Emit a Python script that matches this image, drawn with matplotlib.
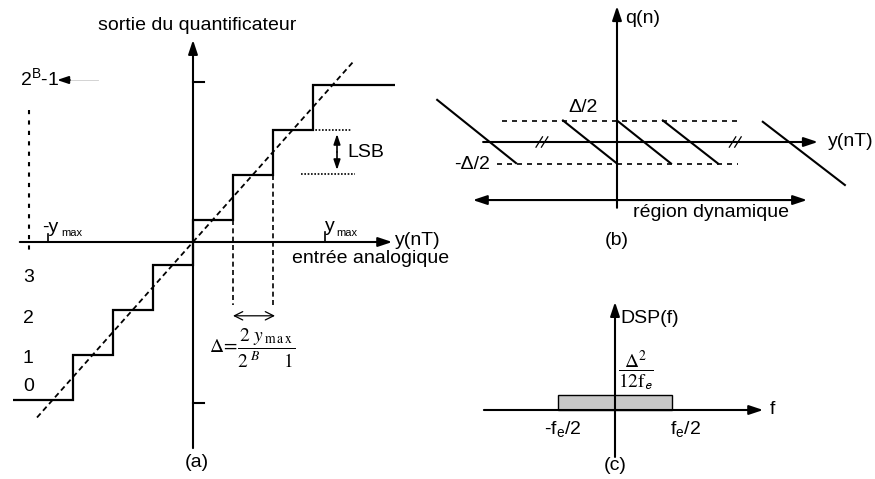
import matplotlib.pyplot as plt
from matplotlib.patches import Rectangle

plt.rcParams['font.family'] = ['Liberation Sans', 'DejaVu Sans']

W, H = 875, 479
FS = 14

# (a) quantizer staircase: units = one step (delta) in x, one LSB in y
q_edges = [-4.5, -3, -2, -1, 0, 1, 2, 3, 5.05]
q_levels = [-3.5, -2.5, -1.5, -0.5, 0.5, 1.5, 2.5, 3.5]
ideal_x = [-3.9, 4.0]
code_labels = ['3', '2', '1', '0']
code_y = [-0.78, -1.69, -2.58, -3.22]

# (b) quantization error sawtooth segments (units = delta)
saw_x0 = [-3.33, -1.0, 0.0, 0.85, 2.70]
saw_x1 = [-1.87, 0.0, 1.0, 1.87, 4.22]
saw_y0 = [0.98, 0.5, 0.5, 0.5, 0.47]
saw_y1 = [-0.49, -0.5, -0.5, -0.5, -1.0]

# (c) noise PSD: flat from -fe/2 to fe/2
psd_band = [-0.5, 0.5]
psd_level = 1.0

fig = plt.figure(figsize=(W / 100, H / 100), dpi=100)


def make_panel(ox, oy, sx, sy, x0, x1):
    ax = fig.add_axes([x0 / W, 0, (x1 - x0) / W, 1])
    ax.set_xlim((x0 - ox) / sx, (x1 - ox) / sx)
    ax.set_ylim((oy - H) / sy, oy / sy)
    ax.axis('off')
    return ax


def arrow(ax, x0, y0, x1, y1, style='-|>,head_length=0.6,head_width=0.2',
          lw=1.5, ms=14, color='k'):
    ax.annotate('', xy=(x1, y1), xytext=(x0, y0),
                arrowprops=dict(arrowstyle=style, lw=lw, color=color,
                                mutation_scale=ms, shrinkA=0, shrinkB=0))


# ── (a) quantizer characteristic ──
ax = make_panel(193, 242, 40, 45, 0, 420)
arrow(ax, -4.33, 0, 4.98, 0)
arrow(ax, 0, -4.58, 0, 4.49)
ax.plot([0, 0.28], [3.55, 3.55], color='k', lw=1.5)
ax.plot([0, 0.28], [-3.58, -3.58], color='k', lw=1.5)
ax.stairs(q_levels, q_edges, baseline=None, color='k', lw=1.6)
ax.plot(ideal_x, ideal_x, color='k', lw=1.3, ls=(0, (3, 2)))

# delta construction
ax.plot([1, 1], [0.5, -1.4], color='k', lw=1.2, ls=(0, (3, 2)))
ax.plot([2, 2], [1.5, -1.4], color='k', lw=1.2, ls=(0, (3, 2)))
arrow(ax, 1, -1.64, 2.05, -1.64, style='<->,head_length=0.5,head_width=0.25',
      lw=0.9, ms=12)
ax.text(1.48, -2.36, r'$\Delta\!=\!\dfrac{2\ y_{\,\mathrm{m\,a\,x}}}{2^{\ B}\ \ \ \ \ 1}$',
        math_fontfamily='stix', fontsize=14, ha='center', va='center')

# LSB
ax.plot([2.98, 3.98], [2.5, 2.5], color='k', lw=1.2, ls=(0, (1, 1)))
ax.plot([2.7, 4.05], [1.51, 1.51], color='k', lw=1.2, ls=(0, (1, 1)))
arrow(ax, 3.6, 2.0, 3.6, 2.4, ms=10, lw=1.2)
arrow(ax, 3.6, 2.0, 3.6, 1.6, ms=10, lw=1.2)
ax.text(3.85, 1.98, 'LSB', fontsize=FS, ha='left', va='center')

# left annotations
ax.plot([-3.1, -2.38], [3.6, 3.6], color='0.8', lw=0.6)
arrow(ax, -3.08, 3.6, -3.4, 3.6, ms=11, lw=1.4)
ax.text(-4.33, 3.62, r'2$^{\mathregular{B}}$-1', fontsize=FS, ha='left', va='center')
ax.plot([-4.1, -4.1], [2.93, -0.29], color='k', lw=1.5, ls=(0, (2, 3)))
ax.plot([-3.62, -3.62], [0, 0.18], color='k', lw=1.2)
ax.plot([3.3, 3.3], [0, 0.22], color='k', lw=1.2)
ax.text(-3.78, 0.33, '-y', fontsize=FS, ha='left', va='center')
ax.text(-3.3, 0.2, 'max', fontsize=8, ha='left', va='center')
ax.text(3.3, 0.35, 'y', fontsize=FS, ha='left', va='center')
ax.text(3.58, 0.2, 'max', fontsize=8, ha='left', va='center')
ax.text(5.05, 0.04, 'y(nT)', fontsize=FS, ha='left', va='center')
ax.text(2.48, -0.36, 'entrée analogique', fontsize=FS, ha='left', va='center')
ax.text(0.1, 4.82, 'sortie du quantificateur', fontsize=FS, ha='center', va='center')
for lab, yy in zip(code_labels, code_y):
    ax.text(-4.12, yy, lab, fontsize=FS, ha='center', va='center')
ax.text(0.1, -4.89, '(a)', fontsize=FS, ha='center', va='center')

# ── (b) quantization error ──
bx = make_panel(617, 142, 54, 43, 420, 875)
arrow(bx, -2.48, 0, 3.72, 0)
arrow(bx, 0, -1.53, 0, 3.16)
bx.plot([-2.13, 2.31], [0.5, 0.5], color='k', lw=1.2, ls=(0, (3, 3)))
bx.plot([-2.22, 2.24], [-0.5, -0.5], color='k', lw=1.2, ls=(0, (3, 3)))
for x0, x1, y0, y1 in zip(saw_x0, saw_x1, saw_y0, saw_y1):
    bx.plot([x0, x1], [y0, y1], color='k', lw=1.5)
for xb in [-1.39, 2.19]:
    for dx in [-0.05, 0.05]:
        bx.plot([xb + dx - 0.06, xb + dx + 0.06], [-0.12, 0.12], color='k', lw=0.9)
arrow(bx, 0.4, -1.35, -2.67, -1.35)
arrow(bx, 0.4, -1.35, 3.52, -1.35)
bx.text(0.15, 2.88, 'q(n)', fontsize=FS, ha='left', va='center')
bx.text(3.91, 0, 'y(nT)', fontsize=FS, ha='left', va='center')
bx.text(-0.63, 0.81, 'Δ/2', fontsize=FS, ha='center', va='center')
bx.text(-2.69, -0.53, '-Δ/2', fontsize=FS, ha='center', va='center')
bx.text(1.74, -1.63, 'région dynamique', fontsize=FS, ha='center', va='center')
bx.text(0, -2.28, '(b)', fontsize=FS, ha='center', va='center')

# ── (c) noise power spectral density ──
cx = make_panel(615, 410, 114, 15, 420, 875)
cx.add_patch(Rectangle((psd_band[0], 0), psd_band[1] - psd_band[0], psd_level,
                       facecolor='#c8c8c8', edgecolor='k', lw=1.0))
arrow(cx, -1.15, 0, 1.30, 0)
arrow(cx, 0, -3.13, 0, 7.2)
cx.text(0.05, 6.13, 'DSP(f)', fontsize=FS, ha='left', va='center')
cx.text(1.36, 0, 'f', fontsize=FS, ha='left', va='center')
cx.text(0.185, 2.6, r'$\dfrac{\Delta^{2}}{12\mathrm{f}_{\mathsf{e}}}$', math_fontfamily='stix',
        fontsize=14, ha='center', va='center')
cx.text(-0.46, -1.33, r'-f$_{\mathregular{e}}$/2', fontsize=FS, ha='center', va='center')
cx.text(0.62, -1.33, r'f$_{\mathregular{e}}$/2', fontsize=FS, ha='center', va='center')
cx.text(0, -3.67, '(c)', fontsize=FS, ha='center', va='center')

fig.savefig('out.png', dpi=100, facecolor='white')
